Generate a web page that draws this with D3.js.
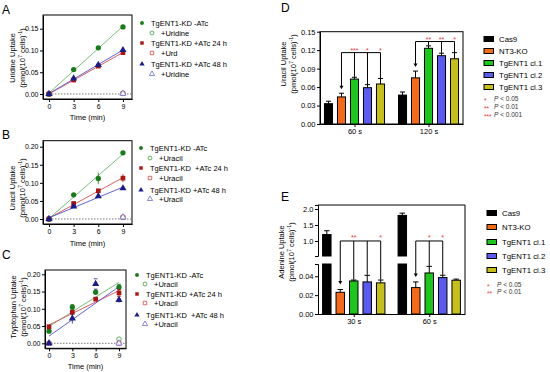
<!DOCTYPE html>
<html>
<head>
<meta charset="utf-8">
<script src="https://cdn.jsdelivr.net/npm/d3@7"></script>
<style>
body { margin: 0; background: #fff; }
svg text { font-family: "Liberation Sans", Arial, sans-serif; white-space: pre; }
</style>
</head>
<body>
<div id="fig"></div>
<script>
// ---- data: time course panels (A, B, C) ---------------------------------
const timeMin = [0, 3, 6, 9];
const openTime = [0, 9];

// A - uridine
const uridineMinus = [0.000, 0.056, 0.106, 0.154];
const uridineMinusErr = [0.000, 0.002, 0.002, 0.003];
const uridine24 = [0.000, 0.032, 0.064, 0.095];
const uridine24Err = [0.000, 0.002, 0.002, 0.003];
const uridine48 = [0.000, 0.036, 0.067, 0.101];
const uridine48Err = [0.000, 0.002, 0.002, 0.003];
const uridineOpenMinus = [0.000, 0.002];
const uridineOpen24 = [0.000, 0.001];
const uridineOpen48 = [0.000, 0.001];

// B - uracil
const uracilMinus = [0.000, 0.067, 0.112, 0.183];
const uracilMinusErr = [0.000, 0.002, 0.016, 0.004];
const uracil24 = [0.000, 0.043, 0.078, 0.113];
const uracil24Err = [0.000, 0.003, 0.003, 0.011];
const uracil48 = [0.000, 0.035, 0.063, 0.085];
const uracil48Err = [0.000, 0.002, 0.002, 0.003];
const uracilOpenMinus = [0.000, 0.005];
const uracilOpen24 = [0.000, 0.005];
const uracilOpen48 = [0.000, 0.005];

// C - tryptophan
const trpMinus = [0.035, 0.105, 0.148, 0.163];
const trpMinusErr = [0.004, 0.007, 0.003, 0.008];
const trp24 = [0.048, 0.090, 0.128, 0.146];
const trp24Err = [0.003, 0.005, 0.004, 0.010];
const trp48 = [0.000, 0.072, 0.172, 0.126];
const trp48Err = [0.000, 0.015, 0.003, 0.008];
const trpOpenMinus = [0.000, 0.012];
const trpOpen24 = [0.000, 0.000];
const trpOpen48 = [0.000, 0.000];

const legendA = ["TgENT1-KD -ATc", "+Uridine", "TgENT1-KD +ATc 24 h", "+Urd", "TgENT1-KD +ATc 48 h", "+Uridine"];
const legendB = ["TgENT1-KD -ATc", "+Uracil", "TgENT1-KD  +ATc 24 h", "+Uracil", "TgENT1-KD +ATc 48 h", "+Uracil"];
const legendC = ["TgENT1-KD -ATc", "+Uracil", "TgENT1-KD +ATc 24 h", "+Uracil", "TgENT1-KD  +ATc 48 h", "+Uracil"];
const timeTicksY = [0, 0.05, 0.10, 0.15, 0.20];

// ---- data: bar panels (D, E) ---------------------------------------------
const strains = ["Cas9", "NT3-KO", "TgENT1 cl.1", "TgENT1 cl.2", "TgENT1 cl.3"];
const uracilTimes = ["60 s", "120 s"];
const uracil60s = [0.033, 0.044, 0.073, 0.059, 0.065];
const uracil60sErr = [0.004, 0.006, 0.003, 0.005, 0.009];
const uracil120s = [0.047, 0.075, 0.123, 0.111, 0.106];
const uracil120sErr = [0.005, 0.011, 0.004, 0.004, 0.010];
const uracilTicks = [0, 0.03, 0.06, 0.09, 0.12, 0.15];

const adenineTimes = ["30 s", "60 s"];
const adenine30s = [1.20, 0.023, 0.035, 0.034, 0.033];
const adenine30sErr = [0.12, 0.003, 0.001, 0.007, 0.003];
const adenine60s = [1.80, 0.028, 0.0435, 0.0386, 0.0358];
const adenine60sErr = [0.07, 0.006, 0.007, 0.0025, 0.0012];
const adenineTicksHigh = [1.0, 1.5, 2.0];
const adenineTicksLow = [0, 0.02, 0.04];

// significance: reference bar, compared bars, stars
const uracilSig = [
  { time: "60 s", ref: 1, targets: [2, 3, 4], stars: ["***", "*", "*"] },
  { time: "120 s", ref: 1, targets: [2, 3, 4], stars: ["**", "**", "*"] }
];
const adenineSig = [
  { time: "30 s", ref: 1, targets: [2, 3, 4], stars: ["**", "", "*"] },
  { time: "60 s", ref: 1, targets: [2, 3], stars: ["*", "*"] }
];
const uracilP = [["*", "P < 0.05"], ["**", "P < 0.01"], ["***", "P < 0.001"]];
const adenineP = [["*", "P < 0.05"], ["**", "P < 0.01"]];

// ---- styles ------------------------------------------------------------
const strainColors = ["#000000", "#f26a1b", "#1fc41f", "#5b5bf0", "#c4bf1e"];
const markColor = ["#1b7a1b", "#a81616", "#1c1c86"];
const fitColor = ["#7cbc7c", "#d86262", "#6464d6"];
const openColor = ["#3d9a3d", "#d24545", "#6d6dd2"];
const shapes = [d3.symbolCircle, d3.symbolSquare, d3.symbolTriangle];
const starRed = "#e8363a";

const svg = d3.select("#fig").append("svg")
    .attr("width", 550)
    .attr("height", 372);

const tickFs = 7;
const titleFs = 7.5;

// panel letters
[["A", 2, 14], ["B", 2, 139], ["C", 2, 259], ["D", 281, 12], ["E", 281, 201]].forEach(l => {
    svg.append("text").attr("x", l[1]).attr("y", l[2])
        .attr("font-size", 12).text(l[0]);
});

// rotated two line y title with superscripts
const yTitle = (x1, x2, cy, name, fs) => {
    svg.append("text")
        .attr("transform", `translate(${x1},${cy}) rotate(-90)`)
        .attr("text-anchor", "middle")
        .attr("font-size", fs)
        .text(name);
    const t = svg.append("text")
        .attr("transform", `translate(${x2},${cy}) rotate(-90)`)
        .attr("text-anchor", "middle")
        .attr("font-size", fs);
    t.append("tspan").text("(pmol(10");
    t.append("tspan").attr("font-size", fs * 0.7).attr("dy", -fs * 0.38).text("7");
    t.append("tspan").attr("dy", fs * 0.38).text(" cells)");
    t.append("tspan").attr("font-size", fs * 0.7).attr("dy", -fs * 0.38).text("-1");
    t.append("tspan").attr("dy", fs * 0.38).text(")");
};

const styleAxis = g => {
    g.selectAll("path, line").attr("stroke", "#000").attr("stroke-width", 1);
    g.selectAll("text").attr("font-size", tickFs).attr("fill", "#000")
        .attr("font-family", '"Liberation Sans", Arial, sans-serif');
};

// least squares line through the filled points
const fit = (xs, ys) => {
    const mx = d3.mean(xs), my = d3.mean(ys);
    const b = d3.sum(xs, (v, i) => (v - mx) * (ys[i] - my)) / d3.sum(xs, v => (v - mx) ** 2);
    return [my - b * mx, b];
};

// ---- time course panel ---------------------------------------------------
const timePanel = p => {
    const x = d3.scaleLinear().domain(p.xDom).range(p.xRange);
    const y = d3.scaleLinear().domain(p.yDom).range(p.yRange);
    const g = svg.append("g");

    g.append("rect")
        .attr("x", p.xRange[0]).attr("y", p.yRange[1])
        .attr("width", p.xRange[1] - p.xRange[0])
        .attr("height", p.yRange[0] - p.yRange[1])
        .attr("fill", "none").attr("stroke", "#000");

    g.append("line")
        .attr("x1", p.xRange[0]).attr("x2", p.xRange[1])
        .attr("y1", y(0)).attr("y2", y(0))
        .attr("stroke", "#555").attr("stroke-width", 0.8)
        .attr("stroke-dasharray", "1.5,1.5");

    g.append("g").attr("transform", `translate(0,${p.yRange[0]})`)
        .call(d3.axisBottom(x).tickValues(timeMin).tickFormat(d3.format("d"))
            .tickSize(3).tickSizeOuter(0).tickPadding(2))
        .call(styleAxis);
    g.append("g").attr("transform", `translate(${p.xRange[0]},0)`)
        .call(d3.axisLeft(y).tickValues(timeTicksY.filter(v => v <= p.yDom[1]))
            .tickFormat(d3.format(".2f")).tickSize(3).tickSizeOuter(0).tickPadding(1.5))
        .call(styleAxis);

    // fit lines
    p.series.forEach((s, i) => {
        const [a, b] = fit(timeMin, s.vals);
        g.append("line")
            .attr("x1", x(0)).attr("y1", y(a))
            .attr("x2", x(9)).attr("y2", y(a + b * 9))
            .attr("stroke", fitColor[i]).attr("stroke-width", 1);
    });

    // open markers
    p.series.forEach((s, i) => {
        g.selectAll(null).data(s.open).enter().append("path")
            .attr("d", d3.symbol(shapes[i], 16))
            .attr("transform", (d, j) => `translate(${x(openTime[j])},${y(d)})`)
            .attr("fill", "#fff").attr("stroke", openColor[i]).attr("stroke-width", 0.8);
    });

    // error bars and filled markers
    p.series.forEach((s, i) => {
        const eb = g.selectAll(null).data(s.vals).enter().append("g")
            .attr("transform", (d, j) => `translate(${x(timeMin[j])},0)`);
        eb.append("line")
            .attr("y1", (d, j) => y(d - s.err[j])).attr("y2", (d, j) => y(d + s.err[j]))
            .attr("stroke", markColor[i]).attr("stroke-width", 0.8);
        eb.filter((d, j) => s.err[j] > 0.002).append("line")
            .attr("x1", -1.8).attr("x2", 1.8)
            .attr("y1", (d, j) => y(d + s.err[j])).attr("y2", (d, j) => y(d + s.err[j]))
            .attr("stroke", markColor[i]).attr("stroke-width", 0.8);
        eb.filter((d, j) => s.err[j] > 0.002).append("line")
            .attr("x1", -1.8).attr("x2", 1.8)
            .attr("y1", (d, j) => y(d - s.err[j])).attr("y2", (d, j) => y(d - s.err[j]))
            .attr("stroke", markColor[i]).attr("stroke-width", 0.8);
        eb.append("path")
            .attr("d", d3.symbol(shapes[i], 22))
            .attr("transform", d => `translate(0,${y(d)})`)
            .attr("fill", markColor[i]);
    });

    // axis titles
    svg.append("text")
        .attr("x", (p.xRange[0] + p.xRange[1]) / 2).attr("y", p.timeY)
        .attr("text-anchor", "middle").attr("font-size", titleFs)
        .text("Time (min)");
    yTitle(p.titleX[0], p.titleX[1], p.titleY, p.name, titleFs);

    // legend
    p.legend.forEach((txt, k) => {
        const i = Math.floor(k / 2), open = k % 2 === 1;
        const mx = open ? p.legX[1] : p.legX[0];
        const row = p.legRows[k];
        svg.append("path")
            .attr("d", d3.symbol(shapes[i], 12))
            .attr("transform", `translate(${mx},${row})`)
            .attr("fill", open ? "#fff" : markColor[i])
            .attr("stroke", open ? openColor[i] : "none").attr("stroke-width", 0.8);
        svg.append("text")
            .attr("x", mx + 9).attr("y", row + 2.6)
            .attr("font-size", 7.5).text(txt);
    });
};

timePanel({
    name: "Uridine Uptake",
    xDom: [-0.73, 10.1], xRange: [43, 132],
    yDom: [-0.0115, 0.1815], yRange: [99, 15],
    timeY: 120, titleX: [15, 25], titleY: 58,
    legX: [142, 152], legRows: [23, 33, 43, 53, 64, 74],
    legend: legendA,
    series: [
        { vals: uridineMinus, err: uridineMinusErr, open: uridineOpenMinus },
        { vals: uridine24, err: uridine24Err, open: uridineOpen24 },
        { vals: uridine48, err: uridine48Err, open: uridineOpen48 }
    ]
});

timePanel({
    name: "Uracil Uptake",
    xDom: [-0.73, 10.1], xRange: [43, 132],
    yDom: [-0.0138, 0.2166], yRange: [224, 140.7],
    timeY: 246, titleX: [15, 25], titleY: 188,
    legX: [141, 150], legRows: [148, 158, 168, 178, 190, 199],
    legend: legendB,
    series: [
        { vals: uracilMinus, err: uracilMinusErr, open: uracilOpenMinus },
        { vals: uracil24, err: uracil24Err, open: uracilOpen24 },
        { vals: uracil48, err: uracil48Err, open: uracilOpen48 }
    ]
});

timePanel({
    name: "Tryptophan Uptake",
    xDom: [-0.514, 9.9], xRange: [45, 126],
    yDom: [-0.0145, 0.2125], yRange: [348.3, 270],
    timeY: 369, titleX: [16, 26], titleY: 307,
    legX: [137, 145], legRows: [275, 284, 294, 303, 315, 324],
    legend: legendC,
    series: [
        { vals: trpMinus, err: trpMinusErr, open: trpOpenMinus },
        { vals: trp24, err: trp24Err, open: trpOpen24 },
        { vals: trp48, err: trp48Err, open: trpOpen48 }
    ]
});

// ---- bar panels -----------------------------------------------------------
const arrowDown = (g, x, y1, y2) => {
    g.append("line").attr("x1", x).attr("x2", x).attr("y1", y1).attr("y2", y2 - 3)
        .attr("stroke", "#000").attr("stroke-width", 1);
    g.append("path").attr("d", `M${x - 2},${y2 - 3.5} L${x + 2},${y2 - 3.5} L${x},${y2} Z`)
        .attr("fill", "#000");
};

const barLegend = (lx, rows, pRows, pList) => {
    strains.forEach((s, i) => {
        svg.append("rect")
            .attr("x", lx).attr("y", rows[i] - 2.5).attr("width", 9.5).attr("height", 5)
            .attr("fill", strainColors[i]).attr("stroke", "#000").attr("stroke-width", 1);
        svg.append("text").attr("x", lx + 15).attr("y", rows[i] + 2.8)
            .attr("font-size", 7.8).text(s);
    });
    pList.forEach((pp, k) => {
        svg.append("text").attr("x", lx).attr("y", pRows[k] + 3.5)
            .attr("font-size", 6.5).attr("fill", starRed).text(pp[0]);
        const t = svg.append("text").attr("x", lx + 10).attr("y", pRows[k] + 2.3)
            .attr("font-size", 6.5).attr("fill", "#333");
        t.append("tspan").attr("font-style", "italic").text("P");
        t.append("tspan").text(pp[1].slice(1));
    });
};

// D - uracil uptake
{
    const xR = [320, 463], yR = [124, 31.7];
    const x0 = d3.scalePoint().domain(uracilTimes).range(xR).padding(0.466);
    const x1 = d3.scaleBand().domain(strains).range([-32.5, 32.5]).paddingInner(0.38).paddingOuter(0.19);
    const y = d3.scaleLinear().domain([0, 0.15]).range(yR);
    const vals = { "60 s": [uracil60s, uracil60sErr], "120 s": [uracil120s, uracil120sErr] };
    const g = svg.append("g");

    g.append("rect").attr("x", xR[0]).attr("y", yR[1])
        .attr("width", xR[1] - xR[0]).attr("height", yR[0] - yR[1])
        .attr("fill", "none").attr("stroke", "#000");

    uracilTimes.forEach(t => {
        const [v, e] = vals[t];
        strains.forEach((s, i) => {
            const cx = x0(t) + x1(s);
            g.append("line").attr("x1", cx + x1.bandwidth() / 2).attr("x2", cx + x1.bandwidth() / 2)
                .attr("y1", y(v[i])).attr("y2", y(v[i] + e[i])).attr("stroke", "#000");
            g.append("line").attr("x1", cx + 1.5).attr("x2", cx + x1.bandwidth() - 1.5)
                .attr("y1", y(v[i] + e[i])).attr("y2", y(v[i] + e[i])).attr("stroke", "#000");
            g.append("rect").attr("x", cx).attr("y", y(v[i]))
                .attr("width", x1.bandwidth()).attr("height", y(0) - y(v[i]))
                .attr("fill", strainColors[i]).attr("stroke", "#000").attr("stroke-width", 1);
        });
    });

    const level = { "60 s": 0.116, "120 s": 0.134 };
    uracilSig.forEach(sg => {
        const [v, e] = vals[sg.time];
        const cxs = strains.map(s => x0(sg.time) + x1(s) + x1.bandwidth() / 2);
        const by = y(level[sg.time]);
        const last = sg.targets[sg.targets.length - 1];
        g.append("line").attr("x1", cxs[sg.ref]).attr("x2", cxs[last])
            .attr("y1", by).attr("y2", by).attr("stroke", "#000");
        arrowDown(g, cxs[sg.ref], by, y(v[sg.ref] + e[sg.ref]) - 4);
        sg.targets.forEach((ti, k) => {
            g.append("line").attr("x1", cxs[ti]).attr("x2", cxs[ti])
                .attr("y1", by).attr("y2", y(v[ti] + e[ti]) - 0.5).attr("stroke", "#000");
            g.append("text").attr("x", cxs[ti]).attr("y", by + 0.5)
                .attr("text-anchor", "middle").attr("font-size", 7)
                .attr("fill", starRed).text(sg.stars[k]);
        });
    });

    g.append("g").attr("transform", `translate(0,${yR[0]})`)
        .call(d3.axisBottom(x0).tickSize(3).tickSizeOuter(0).tickPadding(2))
        .call(styleAxis);
    g.append("g").attr("transform", `translate(${xR[0]},0)`)
        .call(d3.axisLeft(y).tickValues(uracilTicks).tickFormat(d3.format(".2f"))
            .tickSize(3).tickSizeOuter(0).tickPadding(1.5))
        .call(styleAxis);
    g.selectAll(".tick text").attr("font-size", 7.5);

    yTitle(286, 296, 64, "Uracil Uptake", 7.5);
    barLegend(484, [39, 51, 63, 75, 87], [99, 107, 115], uracilP);
}

// E - adenine uptake, broken y axis
{
    const xR = [318, 465];
    const x0 = d3.scalePoint().domain(adenineTimes).range(xR).padding(0.4735);
    const x1 = d3.scaleBand().domain(strains).range([-33.75, 33.75]).paddingInner(0.37).paddingOuter(0.19);
    const yHi = d3.scaleLinear().domain([0.53, 2.125]).range([256, 205]);
    const yLo = d3.scaleLinear().domain([0, 0.053]).range([314, 264]);
    const yv = v => v > 0.053 ? yHi(v) : yLo(v);
    const vals = { "30 s": [adenine30s, adenine30sErr], "60 s": [adenine60s, adenine60sErr] };
    const g = svg.append("g");

    // frame: top and right
    g.append("path").attr("d", `M${xR[0]},205 H${xR[1]} V314`)
        .attr("fill", "none").attr("stroke", "#000");

    adenineTimes.forEach(t => {
        const [v, e] = vals[t];
        strains.forEach((s, i) => {
            const cx = x0(t) + x1(s);
            const bw = x1.bandwidth();
            g.append("line").attr("x1", cx + bw / 2).attr("x2", cx + bw / 2)
                .attr("y1", yv(v[i])).attr("y2", yv(v[i] + e[i])).attr("stroke", "#000");
            g.append("line").attr("x1", cx + 1.5).attr("x2", cx + bw - 1.5)
                .attr("y1", yv(v[i] + e[i])).attr("y2", yv(v[i] + e[i])).attr("stroke", "#000");
            if (v[i] > 0.053) {
                g.append("rect").attr("x", cx).attr("y", yHi(v[i]))
                    .attr("width", bw).attr("height", yHi(0.53) - yHi(v[i]))
                    .attr("fill", strainColors[i]).attr("stroke", "#000");
                g.append("rect").attr("x", cx).attr("y", yLo(0.053))
                    .attr("width", bw).attr("height", yLo(0) - yLo(0.053))
                    .attr("fill", strainColors[i]).attr("stroke", "#000");
            } else {
                g.append("rect").attr("x", cx).attr("y", yLo(v[i]))
                    .attr("width", bw).attr("height", yLo(0) - yLo(v[i]))
                    .attr("fill", strainColors[i]).attr("stroke", "#000");
            }
        });
    });

    adenineSig.forEach(sg => {
        const [v, e] = vals[sg.time];
        const cxs = strains.map(s => x0(sg.time) + x1(s) + x1.bandwidth() / 2);
        const by = yHi(1.0);
        const last = sg.targets[sg.targets.length - 1];
        g.append("line").attr("x1", cxs[sg.ref]).attr("x2", cxs[last])
            .attr("y1", by).attr("y2", by).attr("stroke", "#000");
        arrowDown(g, cxs[sg.ref], by, yLo(v[sg.ref] + e[sg.ref]) - 5);
        sg.targets.forEach((ti, k) => {
            g.append("line").attr("x1", cxs[ti]).attr("x2", cxs[ti])
                .attr("y1", by).attr("y2", yLo(v[ti] + e[ti]) - 0.5).attr("stroke", "#000");
            g.append("text").attr("x", cxs[ti]).attr("y", by - 1)
                .attr("text-anchor", "middle").attr("font-size", 7)
                .attr("fill", starRed).text(sg.stars[k]);
        });
    });

    g.append("g").attr("transform", "translate(0,314)")
        .call(d3.axisBottom(x0).tickSize(3).tickSizeOuter(0).tickPadding(2))
        .call(styleAxis);
    g.append("g").attr("transform", `translate(${xR[0]},0)`)
        .call(d3.axisLeft(yHi).tickValues(adenineTicksHigh).tickFormat(d3.format(".1f"))
            .tickSize(3).tickSizeOuter(3).tickPadding(1.5))
        .call(styleAxis);
    g.append("g").attr("transform", `translate(${xR[0]},0)`)
        .call(d3.axisLeft(yLo).tickValues(adenineTicksLow).tickFormat(d3.format(".2f"))
            .tickSize(3).tickSizeOuter(3).tickPadding(1.5))
        .call(styleAxis);
    g.selectAll(".tick text").attr("font-size", 7.5);

    yTitle(284, 294, 252, "Adenine Uptake", 7.5);
    barLegend(487, [213, 227, 242, 256, 270], [285, 292], adenineP);
}
</script>
</body>
</html>
